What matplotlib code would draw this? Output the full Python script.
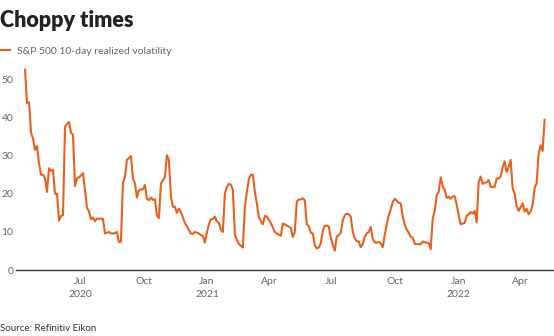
import pandas as pd
import matplotlib
matplotlib.use("Agg")
import matplotlib.pyplot as plt

plt.rcParams["font.family"] = ["Lato", "DejaVu Sans"]

title = "Choppy times"
series_name = "S&P 500 10-day realized volatility"
source = "Source: Refinitiv Eikon"

start, end = "2020-04-12", "2022-05-06"

# 10-day realized volatility, one reading about every two trading days
vol = [
	52.5, 43.8, 44, 36, 34.5, 31.5, 32.5, 28, 25, 25,
	24, 20.5, 26.7, 26, 26.3, 20, 20, 13, 14.2, 14.4,
	37.5, 38.3, 38.8, 36, 35.5, 22, 24, 24.3, 24.8, 25.4,
	21, 16.3, 15.4, 13.4, 13.8, 12.8, 13.5, 13.5, 13.5, 13.4,
	9.6, 9.8, 10, 9.6, 9.6, 9.7, 10, 7.3, 7.5, 22.9,
	24.4, 28.9, 29.3, 29.9, 24, 22.7, 19, 21, 21.1, 21.2,
	22.3, 18.7, 18.3, 19, 18.4, 18.6, 14.3, 13.6, 22.7, 23.5,
	24.4, 30.1, 28.8, 19.2, 16.6, 16.6, 15, 16.1, 15.2, 13.8,
	12.3, 11.5, 10.5, 9.6, 9.5, 10, 9.8, 9.6, 9.2, 8.9,
	7.2, 9.8, 12, 13.3, 13.4, 14, 12.8, 12.4, 10.6, 10,
	20, 21.8, 22.6, 22.4, 21, 9.4, 8, 6.8, 6.4, 5.9,
	16.3, 20.5, 23.8, 25, 25, 20.5, 17.5, 14, 12.8, 12,
	14.2, 14.1, 13.2, 12.3, 11.2, 10, 9.6, 9.3, 9, 12.2,
	12, 11.7, 11.4, 11, 8.7, 10, 18, 18.5, 18.5, 18.8,
	18.3, 12, 11.5, 9.8, 9.6, 6.5, 5.7, 5.9, 7.1, 10.3,
	11.6, 11.7, 11.4, 8.5, 6.7, 5.1, 8.8, 9.2, 9.8, 13,
	14.4, 14.8, 14.6, 14, 10, 8.3, 7.6, 7.5, 6, 6.8,
	8.8, 9.6, 10, 11.3, 8.2, 7.3, 7.2, 7.4, 7, 6,
	9.2, 11.9, 14.4, 16, 17.8, 18.7, 18.2, 17.6, 17.5, 14.1,
	12, 10.6, 9.8, 8.7, 8.5, 6.9, 6.8, 6.8, 6.8, 7.5,
	7.3, 7.2, 7.1, 5.5, 13.5, 15.5, 19.6, 20.5, 24.3, 22,
	21, 18.9, 19.2, 18.7, 19.3, 19.4, 17.1, 14.4, 12, 12.2,
	12.4, 14.2, 14.7, 15.2, 14.8, 15.5, 12.5, 23.1, 24.5, 22.6,
	22.9, 23, 23.6, 21.8, 21.8, 21.8, 24, 24, 24.5, 26.9,
	28.5, 25.7, 27, 28.9, 21.4, 20, 16.8, 15.5, 16.5, 17.5,
	15.3, 16.1, 14.6, 15.3, 17.2, 21.5, 22.8, 30.5, 32.7, 31.2,
	39.4,
]
dates = pd.date_range(start, end, periods=len(vol))

tick_dates = pd.to_datetime([
	"2020-07-01", "2020-10-01", "2021-01-01", "2021-04-01",
	"2021-07-01", "2021-10-01", "2022-01-01", "2022-04-01",
])
tick_labels = ["Jul\n2020", "Oct", "Jan\n2021", "Apr", "Jul", "Oct", "Jan\n2022", "Apr"]
y_ticks = [0, 10, 20, 30, 40, 50]

orange = "#e8601c"
grey = "#666666"

fig = plt.figure(figsize=(5.54, 3.36), dpi=100)
ax = fig.add_axes([0.029, 0.196, 0.969, 0.625])

ax.plot(dates, vol, color=orange, lw=1.5, label=series_name)

ax.set_xlim(pd.Timestamp("2020-03-30"), pd.Timestamp("2022-05-18"))
ax.set_ylim(0, 55)
ax.set_xticks(tick_dates)
ax.set_xticklabels(tick_labels)
ax.set_yticks(y_ticks)

for s in ["top", "right", "left"]:
	ax.spines[s].set_visible(False)
ax.spines["bottom"].set_color("#333333")
ax.spines["bottom"].set_linewidth(1.0)

ax.tick_params(axis="both", length=0, labelsize=7.5, labelcolor=grey)
ax.tick_params(axis="x", pad=5)
ax.tick_params(axis="y", pad=2)
for lab in ax.get_xticklabels():
	lab.set_linespacing(1.5)

fig.text(0.0, 0.92, title, fontsize=15.5, fontweight="heavy", color="#222222", va="baseline")
fig.legend(loc="center left", bbox_to_anchor=(-0.004, 0.847), frameon=False,
	handlelength=1.2, handletextpad=0.6, borderpad=0, borderaxespad=0,
	fontsize=7.5, labelcolor=grey)
fig.text(0.0, 0.015, source, fontsize=7, color="#333333", va="baseline")

fig.savefig("out.png", dpi=100)
